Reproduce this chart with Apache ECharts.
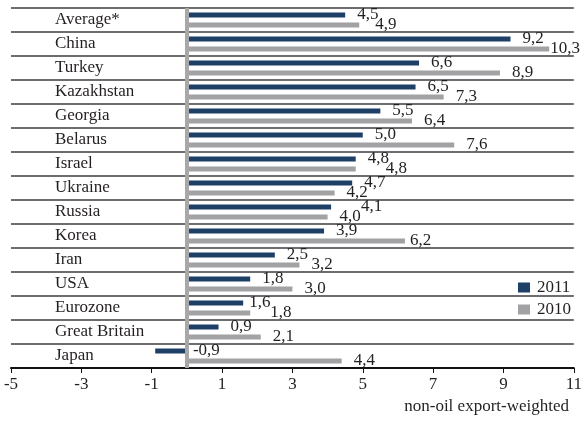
<!DOCTYPE html>
<html>
<head>
<meta charset="utf-8">
<style>
  html, body { margin: 0; padding: 0; background: #fff; }
  #chart { width: 585px; height: 423px; }
</style>
<script src="https://cdn.jsdelivr.net/npm/echarts@6/dist/echarts.min.js"></script>
</head>
<body>
<div id="chart"></div>
<script>
// Countries, top to bottom
const categories = ['Average*', 'China', 'Turkey', 'Kazakhstan', 'Georgia', 'Belarus', 'Israel',
  'Ukraine', 'Russia', 'Korea', 'Iran', 'USA', 'Eurozone', 'Great Britain', 'Japan'];

// Growth, non-oil export-weighted
const values2011 = [4.5, 9.2, 6.6, 6.5, 5.5, 5.0, 4.8, 4.7, 4.1, 3.9, 2.5, 1.8, 1.6, 0.9, -0.9];
const values2010 = [4.9, 10.3, 8.9, 7.3, 6.4, 7.6, 4.8, 4.2, 4.0, 6.2, 3.2, 3.0, 1.8, 2.1, 4.4];

const xTicks = [-5, -3, -1, 1, 3, 5, 7, 9, 11];

// Label nudges (px) to keep close value labels apart
const nudge2011 = { 'Russia': 18, 'Eurozone': -6, 'Japan': -6 };
const nudge2010 = { 'China': -11, 'Israel': 18, 'Korea': -7, 'Eurozone': 8, 'Average*': 4 };

const FONT = '"Liberation Serif", "Times New Roman", serif';
const NAVY = '#1e3f66';
const GREY = '#a2a2a5';

const fmt = v => String(v.toFixed(1)).replace('.', ',');

function buildData(values, nudges) {
  return values.map((v, i) => {
    const n = nudges[categories[i]] || 0;
    return { value: v, label: { offset: [n, 0] } };
  });
}

const chart = echarts.init(document.getElementById('chart'), null, { renderer: 'canvas' });

chart.setOption({
  animation: false,
  backgroundColor: '#fff',
  title: {
    text: 'non-oil export-weighted',
    right: 11,
    bottom: 3,
    textStyle: { fontFamily: FONT, fontSize: 17, fontWeight: 'normal', color: '#231f20' }
  },
  legend: {
    orient: 'vertical',
    right: 9,
    top: 274,
    itemWidth: 12,
    itemHeight: 10,
    itemGap: 5,
    icon: 'rect',
    data: ['2011', '2010'],
    textStyle: { fontFamily: FONT, fontSize: 17, color: '#231f20', padding: [0, 0, 0, 2] }
  },
  grid: { left: 11, right: 10, top: 8, bottom: 55, containLabel: false },
  xAxis: {
    type: 'value',
    min: -5,
    max: 11,
    axisLine: { show: true, onZero: false, lineStyle: { color: '#111', width: 2 } },
    axisTick: { show: true, length: 5, lineStyle: { color: '#111', width: 1 }, customValues: xTicks },
    axisLabel: {
      customValues: xTicks,
      fontFamily: FONT, fontSize: 17, color: '#231f20', margin: 8,
      formatter: v => String(v)
    },
    splitLine: { show: false }
  },
  yAxis: {
    type: 'category',
    data: categories,
    inverse: true,
    position: 'left',
    axisLine: { show: false },
    axisTick: { show: false },
    axisLabel: {
      inside: true,
      margin: 44,
      fontFamily: FONT, fontSize: 17, color: '#231f20'
    },
    splitLine: { show: true, lineStyle: { color: '#3c3c3c', width: 1.5 } }
  },
  series: [
    {
      name: '2011',
      type: 'bar',
      data: buildData(values2011, nudge2011),
      barWidth: 5,
      barGap: '100%',
      itemStyle: { color: NAVY },
      label: {
        show: true, position: 'right', distance: 12,
        fontFamily: FONT, fontSize: 17, color: '#231f20',
        formatter: p => fmt(p.value)
      },
      // grey zero line
      markLine: {
        silent: true,
        symbol: 'none',
        label: { show: false },
        lineStyle: { color: '#a8a8a8', width: 4, type: 'solid' },
        data: [{ xAxis: 0 }]
      }
    },
    {
      name: '2010',
      type: 'bar',
      data: buildData(values2010, nudge2010),
      barWidth: 5,
      barGap: '100%',
      itemStyle: { color: GREY },
      label: {
        show: true, position: 'right', distance: 12,
        fontFamily: FONT, fontSize: 17, color: '#231f20',
        formatter: p => fmt(p.value)
      }
    }
  ]
});
</script>
</body>
</html>
